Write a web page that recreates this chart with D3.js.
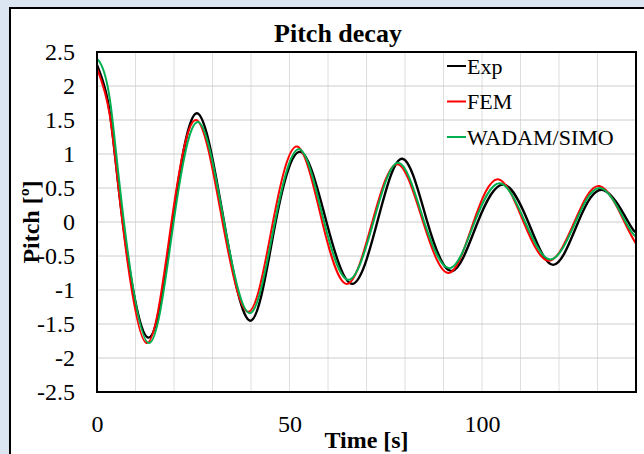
<!DOCTYPE html>
<html>
<head>
<meta charset="utf-8">
<script src="https://cdn.jsdelivr.net/npm/d3@7"></script>
<style>
  body { margin: 0; background: #dce6f2; }
  svg { display: block; }
  text { font-family: "Times New Roman", "Liberation Serif", serif; fill: #000; }
</style>
</head>
<body>
<div id="chart"></div>
<script>
// values
const xTicks = [0, 50, 100];
const xGrid = [10, 20, 30, 40, 50, 60, 70, 80, 90, 100, 110, 120, 130];
const yTicks = [2.5, 2, 1.5, 1, 0.5, 0, -0.5, -1, -1.5, -2, -2.5];

const expT = [0, 3.3, 6.7, 13.3, 19.6, 26.0, 33.0, 40.0, 46.4, 52.9, 59.6, 66.3, 72.8, 79.3, 85.8, 92.3, 98.9, 105.5, 112.0, 118.5, 125.0, 131.5, 138.0, 140];
const expY = [2.31, 1.62, 0, -1.70, 0, 1.60, 0, -1.45, 0, 1.03, 0, -0.91, 0, 0.93, 0, -0.72, 0, 0.55, 0, -0.63, 0, 0.47, 0, -0.15];

const femT = [0, 3.3, 6.6, 12.9, 19.35, 25.8, 32.6, 39.4, 45.7, 52.0, 58.5, 65.0, 71.5, 78.0, 84.7, 91.4, 97.8, 104.2, 110.8, 117.4, 124.0, 130.5, 137.0, 140];
const femY = [2.26, 1.58, 0, -1.78, 0, 1.50, 0, -1.32, 0, 1.11, 0, -0.91, 0, 0.85, 0, -0.75, 0, 0.63, 0, -0.57, 0, 0.53, 0, -0.32];

const simT = [0, 1.2, 3.5, 7.0, 13.5, 19.9, 26.3, 33.0, 39.8, 46.2, 52.6, 59.0, 65.4, 71.8, 78.3, 85.0, 91.7, 98.1, 104.6, 111.2, 117.8, 124.3, 130.8, 137.3, 140];
const simY = [2.40, 2.30, 1.74, 0, -1.78, 0, 1.47, 0, -1.34, 0, 1.07, 0, -0.85, 0, 0.87, 0, -0.68, 0, 0.57, 0, -0.55, 0, 0.50, 0, -0.22];

const seriesNames = ['Exp', 'FEM', 'WADAM/SIMO'];
const seriesColors = ['#000000', '#ff0000', '#00b050'];

const width = 644;
const height = 454;
const plot = { left: 97, right: 636, top: 52, bottom: 392 };

const svg = d3.select('#chart').append('svg')
  .attr('width', width)
  .attr('height', height);

svg.append('rect')
  .attr('x', 10)
  .attr('y', 8)
  .attr('width', 700)
  .attr('height', 500)
  .attr('fill', '#fff')
  .attr('stroke', '#000')
  .attr('stroke-width', 2);

const x = d3.scaleLinear().domain([0, 140]).range([plot.left, plot.right]);
const y = d3.scaleLinear().domain([-2.5, 2.5]).range([plot.bottom, plot.top]);

svg.append('g')
  .selectAll('line')
  .data(xGrid)
  .enter()
  .append('line')
  .attr('x1', (d) => x(d))
  .attr('x2', (d) => x(d))
  .attr('y1', plot.top)
  .attr('y2', plot.bottom)
  .attr('stroke', '#dedede')
  .attr('stroke-width', 1);

svg.append('g')
  .selectAll('line')
  .data(yTicks.slice(1, -1))
  .enter()
  .append('line')
  .attr('x1', plot.left)
  .attr('x2', plot.right)
  .attr('y1', (d) => y(d))
  .attr('y2', (d) => y(d))
  .attr('stroke', '#cccccc')
  .attr('stroke-width', 1);

const yAxis = svg.append('g')
  .attr('transform', `translate(${plot.left},0)`)
  .call(d3.axisLeft(y).tickValues(yTicks).tickSize(0).tickPadding(22).tickFormat((d) => String(d)));

const xAxis = svg.append('g')
  .attr('transform', `translate(0,${plot.bottom})`)
  .call(d3.axisBottom(x).tickValues(xTicks).tickSize(0).tickPadding(23).tickFormat((d) => String(d)));

[yAxis, xAxis].forEach((axis) => {
  axis.select('.domain').remove();
  axis.selectAll('text')
    .style('font-family', '"Times New Roman", "Liberation Serif", serif')
    .style('font-size', '24px')
    .attr('fill', '#000');
});

const line = d3.line()
  .x((d) => x(d[0]))
  .y((d) => y(d[1]))
  .curve(d3.curveNatural);

const series = [
  d3.zip(expT, expY),
  d3.zip(femT, femY),
  d3.zip(simT, simY)
];

svg.append('g')
  .selectAll('path')
  .data(series)
  .enter()
  .append('path')
  .attr('d', line)
  .attr('fill', 'none')
  .attr('stroke', (d, i) => seriesColors[i])
  .attr('stroke-width', (d, i) => (i === 0 ? 2.4 : 2))
  .attr('stroke-linejoin', 'round');

svg.append('rect')
  .attr('x', plot.left)
  .attr('y', plot.top)
  .attr('width', plot.right - plot.left)
  .attr('height', plot.bottom - plot.top)
  .attr('fill', 'none')
  .attr('stroke', '#000')
  .attr('stroke-width', 2);

const legend = svg.append('g')
  .selectAll('g')
  .data(seriesNames)
  .enter()
  .append('g')
  .attr('transform', (d, i) => `translate(447,${66 + i * 35.5})`);

legend.append('line')
  .attr('x1', 0)
  .attr('x2', 19)
  .attr('stroke', (d, i) => seriesColors[i])
  .attr('stroke-width', 2);

legend.append('text')
  .attr('x', 20)
  .attr('y', 7.5)
  .style('font-size', '22px')
  .text((d) => d);

svg.append('text')
  .attr('x', 338)
  .attr('y', 42)
  .attr('text-anchor', 'middle')
  .style('font-size', '26px')
  .style('font-weight', 'bold')
  .text('Pitch decay');

svg.append('text')
  .attr('x', (plot.left + plot.right) / 2)
  .attr('y', 448)
  .attr('text-anchor', 'middle')
  .style('font-size', '24px')
  .style('font-weight', 'bold')
  .text('Time [s]');

svg.append('text')
  .attr('transform', `translate(39,${(plot.top + plot.bottom) / 2}) rotate(-90)`)
  .attr('text-anchor', 'middle')
  .style('font-size', '24px')
  .style('font-weight', 'bold')
  .text('Pitch [º]');
</script>
</body>
</html>
